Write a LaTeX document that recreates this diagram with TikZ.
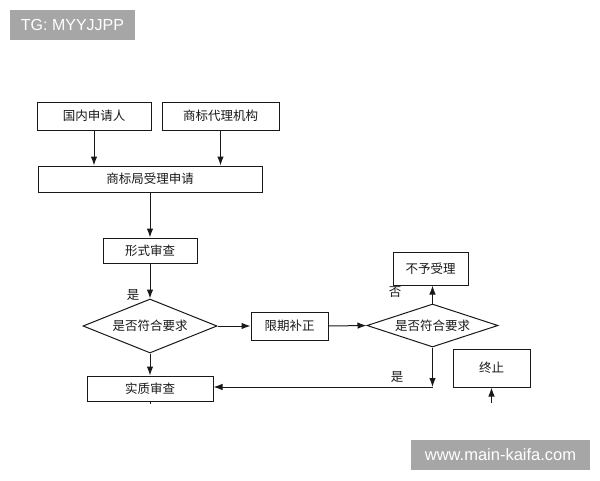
\documentclass[tikz,border=0pt]{standalone}
\usepackage{fontspec}
\setmainfont{Liberation Sans}
\newfontfamily\cjk{Noto Sans CJK SC}
\usetikzlibrary{arrows.meta,shapes.geometric}
\begin{document}
\begin{tikzpicture}[x=1pt,y=-1pt,
  box/.style={draw=black!90,line width=1pt,inner sep=0pt,font=\cjk\fontsize{12.5}{14}\selectfont,text=black!90},
  dia/.style={draw=black!90,line width=1pt,diamond,inner sep=0pt,font=\cjk\fontsize{12.5}{14}\selectfont,text=black!90},
  arr/.style={draw=black!90,line width=1pt,-{Latex[length=9pt,width=6.5pt]}},
  ln/.style={draw=black!90,line width=1pt},
  lab/.style={font=\cjk\fontsize{12.5}{14}\selectfont,text=black!90,inner sep=0pt},
  wm/.style={fill=black!35,text=white,inner sep=0pt}
]
\useasboundingbox (0,0) rectangle (600,480);
\fill[white] (0,0) rectangle (600,480);

\node[wm,minimum width=125pt,minimum height=30pt,font=\fontsize{16}{18}\selectfont] (tg) at (72.5,25) {TG: MYYJJPP};
\node[wm,minimum width=179pt,minimum height=30pt,font=\fontsize{16.5}{18}\selectfont] (www) at (500.5,455) {www.main-kaifa.com};

\node[box,minimum width=114pt,minimum height=28pt] (A) at (94,116) {国内申请人};
\node[box,minimum width=117pt,minimum height=28pt] (B) at (220.5,116) {商标代理机构};
\node[box,minimum width=224pt,minimum height=26pt] (C) at (150,179) {商标局受理申请};
\node[box,minimum width=94pt,minimum height=25pt] (D) at (150,250.5) {形式审查};
\node[dia,minimum width=134pt,minimum height=54pt,aspect=2.48] (E) at (150,326) {是否符合要求};
\node[box,minimum width=77pt,minimum height=28pt] (F) at (289.5,326) {限期补正};
\node[dia,minimum width=131pt,minimum height=43pt,aspect=3.05] (G) at (432.5,325.5) {是否符合要求};
\node[box,minimum width=75pt,minimum height=33pt] (H) at (430.5,268.5) {不予受理};
\node[box,minimum width=126pt,minimum height=25pt] (I) at (150,388.5) {实质审查};
\node[box,minimum width=77pt,minimum height=38pt] (J) at (491.5,368) {终止};

\coordinate (corner) at (432.5,387);
\coordinate (jtail) at (491.5,403);
\coordinate (itick) at (150,404);

\draw[arr] (A.south) -- (A.south |- C.north);
\draw[arr] (B.south) -- (B.south |- C.north);
\draw[arr] (C.south) -- (D.north);
\draw[arr] (D.south) -- (E.north);
\draw[arr] (E.east) -- (F.west);
\draw[arr] (F.east) -- (G.west);
\draw[arr] (G.north) -- (H.south -| G.north);
\draw[arr] (G.south) -- (corner);
\draw[arr] (corner) -- (corner -| I.east);
\draw[arr] (E.south) -- (I.north);
\draw[arr] (jtail) -- (J.south);
\draw[ln] (I.south) -- (itick);

\node[lab] (l1) at (133,295) {是};
\node[lab] (l2) at (395,292) {否};
\node[lab] (l3) at (397,377) {是};
\end{tikzpicture}
\end{document}
